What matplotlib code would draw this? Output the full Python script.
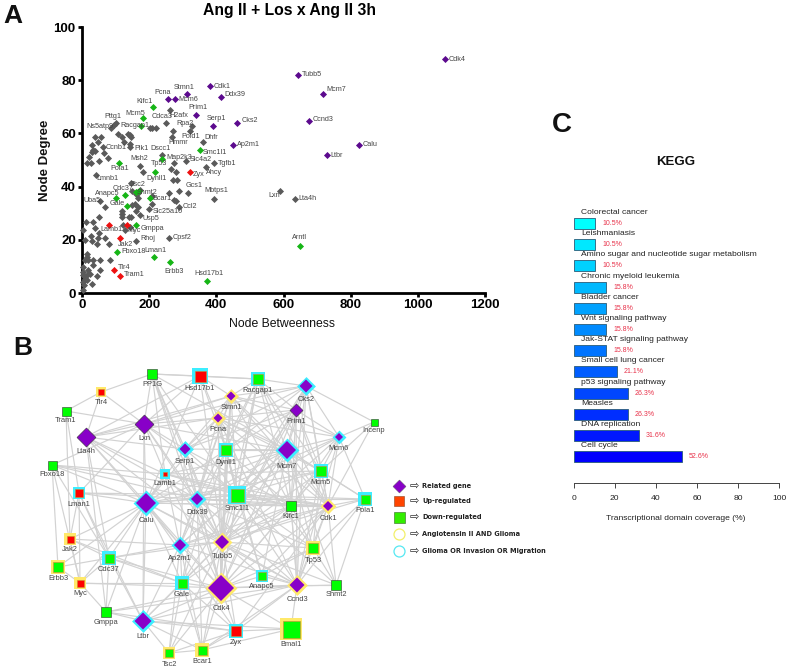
#Recreates the three panel figure: scatter (A), network (B), KEGG bars (C)
import matplotlib
matplotlib.use('Agg')
import matplotlib.pyplot as plt
import numpy as np

plt.rcParams['font.family'] = ['Liberation Sans', 'DejaVu Sans']

W, H = 789, 669

# Panel A data: named genes
purple_names = ['Cdk4', 'Tubb5', 'Mcm7', 'Cdk1', 'Ddx39', 'Stmn1', 'Pcna', 'Mcm6', 'Prim1', 'Serp1', 'Cks2', 'Ccnd3', 'Calu', 'Ltbr', 'Ap2m1']
purple_x = [1082, 642, 719, 382, 415, 314, 257, 276, 339, 390, 463, 675, 824, 729, 451]
purple_y = [87.9, 81.8, 74.8, 77.75, 73.75, 74.75, 72.75, 72.75, 66.75, 62.75, 63.75, 64.8, 55.8, 51.8, 55.75]

green_names = ['Kifc1', 'Mcm5', 'Racgap1', 'Smc1l1', 'Pola1', 'Tp53', 'Dynll1', 'Cdc37', 'Anapc5', 'Gale', 'Tsc2', 'Shmt2', 'Bcar1', 'Gmppa', 'Fbxo18', 'Lman1', 'Erbb3', 'Hsd17b1', 'Arntl']
green_x = [210, 182, 177, 350, 111, 239, 216, 129, 101, 133, 162, 169, 202, 161, 105, 214, 261, 371, 649]
green_y = [69.75, 65.75, 62.75, 53.75, 48.75, 50.5, 45.5, 36.75, 35.75, 32.75, 38, 38.5, 35.75, 25.5, 15.5, 13.5, 11.5, 4.5, 17.7]

red_names = ['Zyx', 'Lamb1', 'Myc', 'Jak2', 'Tlr4', 'Tram1']
red_x = [322, 79, 134, 112, 95, 113]
red_y = [45.5, 25.5, 25.5, 20.5, 8.5, 6.5]

grey_names = ['Ns5atp9', 'Pttg1', 'Cdca3', 'H2afx', 'Rpa2', 'Ccnb1', 'Plk1', 'Dscc1', 'Pold1', 'Hmmr', 'Dhfr', 'Msh2', 'Map2k3', 'Slc4a2', 'Tgfb1', 'Lmnb1', 'Ahcy', 'Gcs1', 'Mbtps1', 'Lxn', 'Lta4h', 'Uba5', 'Ccl2', 'Slc25a10', 'Usp5', 'Cpsf2', 'Rhoj']
grey_x = [86, 102, 249, 263, 327, 144, 144, 237, 321, 267, 361, 174, 275, 311, 392, 41, 370, 317, 392, 589, 635, 54, 289, 199, 174, 258, 161]
grey_y = [61.9, 63.75, 63.75, 68.75, 62.75, 55.9, 54.75, 51.75, 60.75, 58.75, 56.75, 47.75, 48.75, 49.75, 48.75, 44.5, 47.5, 37.5, 35.5, 38.5, 35.5, 34.5, 32.5, 31.6, 29.5, 20.5, 19.6]

# unnamed grey genes
other_x = [94, 38, 56, 29, 49, 62, 34, 29, 39, 65, 77, 22, 16, 26, 52, 108, 120, 137, 142, 147, 126, 202, 209, 219, 271,
           182, 147, 279, 264, 272, 284, 258, 289, 274, 279, 209, 209, 166, 149, 159, 166, 119, 119, 119, 147, 139, 67, 51,
           12, 32, 39, 52, 2, 27, 49, 67, 9, 29, 44, 79, 54, 82, 34, 14, 16, 19, 9, 4, 2, 2, 19, 34, 54, 46, 29, 14, 14, 6, 2,
           4, 24, 9, 122, 129, 144, 162, 167, 174, 162, 149]
other_y = [63.1, 58.75, 58.75, 55.75, 56.75, 54.75, 53.75, 53.1, 53.5, 52.75, 50.9, 51, 48.75, 48.75, 49.75, 59.75, 58.75, 59.75, 59.25, 58.5, 56.9, 61.9, 61.9, 61.9, 60.75,
           45.5, 41.5, 45.5, 46.5, 42.5, 42.5, 37.5, 38.5, 35, 34.5, 36.6, 33.5, 35.6, 32.9, 33.5, 32.25, 30.75, 29.75, 28.5, 28.5, 28.5, 32.5, 28.5,
           26.6, 26.6, 24.5, 22.5, 23.5, 21.5, 20.5, 20.5, 19.75, 19.5, 18.5, 18.5, 12.5, 12.5, 12.25, 14.75, 13.5, 12.25, 12.25, 9.75, 7.9, 6.6, 8.5, 10.4, 8.5, 6.5, 3.5, 6.6, 4.75, 2.9, 1,
           4.1, 7.25, 5.4, 25.4, 23.5, 25, 31, 37.5, 38.75, 37.25, 38.5]

# label offsets from the marker, in pixels
label_offset = {'Cdk4': (12, 0), 'Tubb5': (14, 1), 'Mcm7': (13, 5), 'Cdk1': (12, 0), 'Ddx39': (14, 2), 'Stmn1': (-3, 7), 'Pcna': (-6, 7),
                'Mcm6': (14, 0), 'Prim1': (2, 8), 'Serp1': (3, 8), 'Cks2': (12, 3), 'Ccnd3': (14, 1), 'Calu': (11, 0), 'Ltbr': (10, 0), 'Ap2m1': (15, 0),
                'Kifc1': (-8, 6), 'Mcm5': (-8, 5), 'Racgap1': (-7, 1), 'Smc1l1': (15, -2), 'Pola1': (0, -5), 'Tp53': (-3, -5), 'Dynll1': (2, -7),
                'Cdc37': (-2, 7), 'Anapc5': (-9, 4), 'Gale': (-9, 2), 'Tsc2': (2, 7), 'Shmt2': (8, -2), 'Bcar1': (12, -1), 'Gmppa': (16, -3),
                'Fbxo18': (16, 0), 'Lman1': (2, 7), 'Erbb3': (4, -9), 'Hsd17b1': (2, 8), 'Arntl': (0, 8),
                'Zyx': (8, -3), 'Lamb1': (3, -4), 'Myc': (7, -5), 'Jak2': (6, -6), 'Tlr4': (10, 3), 'Tram1': (14, 1),
                'Ns5atp9': (-11, 2), 'Pttg1': (-3, 7), 'Cdca3': (-4, 7), 'H2afx': (8, -5), 'Rpa2': (-7, 3), 'Ccnb1': (-14, -3), 'Plk1': (11, -1),
                'Dscc1': (-1, 7), 'Pold1': (1, -5), 'Hmmr': (7, -6), 'Dhfr': (8, 5), 'Msh2': (-1, 7), 'Map2k3': (5, 6), 'Slc4a2': (14, 1), 'Tgfb1': (13, 0),
                'Lmnb1': (12, -4), 'Ahcy': (8, -6), 'Gcs1': (6, 8), 'Mbtps1': (3, 8), 'Lxn': (-6, -5), 'Lta4h': (12, 0), 'Uba5': (-8, 1),
                'Ccl2': (11, 0), 'Slc25a10': (19, -3), 'Usp5': (10, -4), 'Cpsf2': (13, 1), 'Rhoj': (12, 2)}

# Panel B data: D related, R up, G down, ring y/c/n
node_names = ['PP1G', 'Hsd17b1', 'Tlr4', 'Tram1', 'Lxn', 'Lta4h', 'Serp1', 'Pcna', 'Fbxo18', 'Lamb1', 'Lman1', 'Calu', 'Ddx39',
              'Racgap1', 'Cks2', 'Stmn1', 'Prim1', 'Incenp', 'Mcm6', 'Dynll1', 'Mcm7', 'Mcm5', 'Smc1l1', 'Kifc1', 'Cdk1', 'Pola1',
              'Jak2', 'Ap2m1', 'Tubb5', 'Cdc37', 'Erbb3', 'Myc', 'Gale', 'Cdk4', 'Gmppa', 'Ltbr', 'Tsc2', 'Bcar1',
              'Tp53', 'Anapc5', 'Ccnd3', 'Shmt2', 'Bmal1', 'Zyx']
node_x = [152, 200, 101, 66, 144, 86, 185, 218, 52, 165, 79, 146, 197,
          258, 306, 231, 296, 374, 339, 226, 287, 321, 237, 291, 328, 365,
          70, 180, 222, 109, 58, 80, 182, 221, 106, 143, 169, 202,
          313, 262, 297, 336, 291, 236]
node_y = [374, 376, 392, 411, 424, 437, 449, 418, 465, 474, 493, 503, 499,
          379, 386, 396, 410, 422, 437, 450, 450, 471, 495, 506, 506, 499,
          539, 545, 542, 558, 567, 583, 583, 588, 612, 621, 653, 650,
          548, 576, 585, 585, 629, 631]
node_kind = ['G', 'R', 'R', 'G', 'D', 'D', 'D', 'D', 'G', 'R', 'R', 'D', 'D',
             'G', 'D', 'D', 'D', 'G', 'D', 'G', 'D', 'G', 'G', 'G', 'D', 'G',
             'R', 'D', 'D', 'G', 'G', 'R', 'G', 'D', 'G', 'D', 'G', 'G',
             'G', 'G', 'D', 'G', 'G', 'R']
node_ring = ['n', 'c', 'y', 'n', 'n', 'n', 'c', 'y', 'n', 'c', 'c', 'c', 'c',
             'c', 'c', 'y', 'n', 'n', 'c', 'c', 'c', 'c', 'c', 'n', 'y', 'c',
             'y', 'c', 'y', 'c', 'y', 'y', 'c', 'y', 'n', 'c', 'y', 'y',
             'y', 'c', 'y', 'n', 'y', 'c']
node_size = [10, 11, 6, 9, 19, 19, 11, 9, 9, 5, 8, 20, 12,
             10, 13, 9, 13, 7, 8, 10, 18, 10, 13, 10, 10, 9,
             7, 12, 14, 9, 10, 7, 9, 26, 10, 17, 8, 9,
             10, 8, 15, 10, 17, 10]

edges = {
    'PP1G': 'Tlr4 Lxn Lamb1 Serp1 Ddx39 Smc1l1 Tubb5 Mcm7 Racgap1 Cdk4 Hsd17b1',
    'Hsd17b1': 'Lxn Stmn1 Racgap1 Lta4h Pcna Dynll1 Calu Tubb5',
    'Tlr4': 'Lta4h Lxn Tram1',
    'Tram1': 'Lxn Lman1 Jak2',
    'Lxn': 'Lta4h Serp1 Pcna Stmn1 Calu Lamb1 Ddx39 Mcm7 Lman1 Fbxo18 Smc1l1 Tubb5 Ltbr Cks2',
    'Lta4h': 'Serp1 Lamb1 Calu Ap2m1 Cdc37 Pcna Gmppa Tubb5 Ddx39 Stmn1',
    'Serp1': 'Pcna Stmn1 Calu Ddx39 Mcm7 Tubb5 Cdk4 Cks2 Prim1 Smc1l1 Ap2m1 Kifc1',
    'Pcna': 'Stmn1 Mcm7 Ddx39 Dynll1 Mcm6 Mcm5 Cdk1 Cdk4 Ccnd3 Smc1l1 Calu Prim1 Tubb5 Tp53',
    'Fbxo18': 'Lamb1 Calu Erbb3 Ddx39 Cdk1 Myc Cdc37',
    'Lamb1': 'Calu Smc1l1 Mcm7 Kifc1 Cdk1 Tubb5 Ap2m1 Mcm5 Cdk4',
    'Lman1': 'Jak2 Myc Cdc37 Ddx39 Calu Ltbr Smc1l1',
    'Calu': 'Ddx39 Smc1l1 Kifc1 Jak2 Myc Erbb3 Cdc37 Ap2m1 Tubb5 Cdk4 Gale Ltbr Mcm7 Mcm5 Cdk1 Dynll1 Ccnd3 Gmppa Zyx',
    'Ddx39': 'Smc1l1 Mcm7 Kifc1 Cdk1 Pola1 Ap2m1 Tubb5 Cdk4 Ccnd3 Racgap1 Stmn1 Mcm6 Gale Tp53 Bcar1',
    'Racgap1': 'Cks2 Stmn1 Prim1 Mcm7 Dynll1 Smc1l1 Mcm5 Cdk1 Tubb5 Cdk4 Kifc1',
    'Cks2': 'Prim1 Stmn1 Mcm6 Incenp Mcm7 Mcm5 Cdk1 Dynll1 Smc1l1 Kifc1 Tubb5 Ccnd3',
    'Stmn1': 'Prim1 Dynll1 Mcm7 Smc1l1 Tubb5 Cdk4 Kifc1 Cdk1 Mcm6 Ap2m1',
    'Prim1': 'Mcm7 Mcm6 Mcm5 Smc1l1 Cdk1 Kifc1 Dynll1 Tubb5 Cdk4 Ccnd3',
    'Incenp': 'Mcm6 Mcm5 Cdk1',
    'Mcm6': 'Mcm7 Mcm5 Kifc1 Cdk1 Pola1 Smc1l1 Tubb5 Ccnd3',
    'Dynll1': 'Mcm7 Smc1l1 Tubb5 Ap2m1 Cdk4 Kifc1 Gale Anapc5',
    'Mcm7': 'Mcm5 Smc1l1 Kifc1 Cdk1 Pola1 Tubb5 Cdk4 Ccnd3 Tp53 Ap2m1 Anapc5 Shmt2',
    'Mcm5': 'Cdk1 Pola1 Kifc1 Smc1l1 Tubb5 Cdk4 Ccnd3 Tp53',
    'Smc1l1': 'Kifc1 Cdk1 Ap2m1 Tubb5 Cdk4 Ccnd3 Gale Tp53 Pola1 Anapc5 Shmt2',
    'Kifc1': 'Cdk1 Tubb5 Cdk4 Ccnd3 Ap2m1 Tp53 Gale',
    'Cdk1': 'Pola1 Tp53 Shmt2 Ccnd3 Tubb5 Cdk4 Ap2m1 Anapc5 Zyx',
    'Pola1': 'Tp53 Ccnd3 Shmt2 Tubb5',
    'Jak2': 'Myc Cdc37 Ap2m1 Gale',
    'Ap2m1': 'Tubb5 Cdc37 Gale Cdk4 Ltbr Tsc2 Ccnd3 Bcar1',
    'Tubb5': 'Cdk4 Gale Cdc37 Anapc5 Ccnd3 Tp53 Zyx Ltbr Bcar1 Tsc2 Shmt2',
    'Cdc37': 'Erbb3 Myc Gmppa Gale Ltbr Cdk4',
    'Erbb3': 'Myc',
    'Myc': 'Gale Cdk4 Gmppa',
    'Gale': 'Cdk4 Ltbr Bcar1 Tsc2 Zyx',
    'Cdk4': 'Gmppa Ltbr Tsc2 Bcar1 Zyx Anapc5 Ccnd3 Tp53 Shmt2 Bmal1',
    'Gmppa': 'Ltbr Zyx Ccnd3',
    'Ltbr': 'Tsc2 Bcar1 Zyx Bmal1 Ccnd3',
    'Tsc2': 'Bcar1 Zyx',
    'Bcar1': 'Zyx Bmal1 Ccnd3',
    'Tp53': 'Ccnd3 Shmt2 Anapc5',
    'Anapc5': 'Ccnd3',
    'Ccnd3': 'Shmt2 Bmal1 Zyx',
    'Bmal1': 'Zyx',
}

legend_labels = ['Related gene', 'Up-regulated', 'Down-regulated', 'Angiotensin II AND Glioma', 'Glioma OR Invasion OR Migration']

# Panel C data
pathways = ['Colorectal cancer', 'Leishmaniasis', 'Amino sugar and nucleotide sugar metabolism', 'Chronic myeloid leukemia',
            'Bladder cancer', 'Wnt signaling pathway', 'Jak-STAT signaling pathway', 'Small cell lung cancer',
            'p53 signaling pathway', 'Measles', 'DNA replication', 'Cell cycle']
coverage = [10.5, 10.5, 10.5, 15.8, 15.8, 15.8, 15.8, 21.1, 26.3, 26.3, 31.6, 52.6]


def axes_px(fig, left, top, right, bottom):
    # axes rectangle given in image pixels
    return fig.add_axes([left / W, 1 - bottom / H, (right - left) / W, (bottom - top) / H])


fig = plt.figure(figsize=(W / 100, H / 100), dpi=100)

# background axes in image pixels for the network and panel letters
net = fig.add_axes([0, 0, 1, 1])
net.set_xlim(0, W)
net.set_ylim(H, 0)
net.axis('off')

net.text(3, 23, 'A', fontsize=19, fontweight='bold', ha='left', va='baseline', color='#111111')
net.text(13, 355, 'B', fontsize=19, fontweight='bold', ha='left', va='baseline', color='#111111')
net.text(552, 132, 'C', fontsize=20, fontweight='bold', ha='left', va='baseline', color='#111111')

# Panel A
ax = axes_px(fig, 82, 27, 485, 293)
ax.patch.set_alpha(0)
ax.set_xlim(0, 1200)
ax.set_ylim(0, 100)
ms = 13
ax.scatter(other_x, other_y, s=ms, marker='D', color='#5a5a5a', linewidths=0, clip_on=False, zorder=3)
ax.scatter(grey_x, grey_y, s=ms, marker='D', color='#5a5a5a', linewidths=0, clip_on=False, zorder=3)
ax.scatter(purple_x, purple_y, s=ms, marker='D', color='#5c0a8e', linewidths=0, zorder=4)
ax.scatter(green_x, green_y, s=ms, marker='D', color='#16b516', linewidths=0, zorder=4)
ax.scatter(red_x, red_y, s=ms, marker='D', color='#ee1111', linewidths=0, zorder=4)

for names, xs, ys in [(purple_names, purple_x, purple_y), (green_names, green_x, green_y),
                      (red_names, red_x, red_y), (grey_names, grey_x, grey_y)]:
    for n in range(len(names)):
        ax.annotate(names[n], (xs[n], ys[n]), xytext=label_offset[names[n]], textcoords='offset pixels',
                    fontsize=5.2, ha='center', va='center', color='#444444', zorder=5)

for side in ['top', 'right']:
    ax.spines[side].set_visible(False)
for side in ['left', 'bottom']:
    ax.spines[side].set_linewidth(2)
ax.set_xticks(range(0, 1201, 200))
ax.set_yticks(range(0, 101, 20))
ax.tick_params(width=2, length=3, labelsize=9.5, pad=1.5)
for t in ax.get_xticklabels() + ax.get_yticklabels():
    t.set_fontweight('bold')
net.text(289.6, 11, 'Ang II + Los x Ang II 3h', fontsize=11.3, fontweight='bold', ha='center', va='center')
net.text(282, 324, 'Node Betweenness', fontsize=8.85, ha='center', va='center', color='#111111')
net.text(45, 160, 'Node Degree', fontsize=9.5, fontweight='bold', rotation=90, ha='center', va='center', color='#111111')

# Panel B edges
for a in edges:
    for b in edges[a].split():
        i, j = node_names.index(a), node_names.index(b)
        net.plot([node_x[i], node_x[j]], [node_y[i], node_y[j]], color='#d2d2d2', lw=0.85, zorder=1, solid_capstyle='round')

# Panel B nodes
fills = {'D': '#8800c8', 'R': '#ff0000', 'G': '#00ff00'}
rings = {'y': '#ffe96a', 'c': '#3ceeff'}
for n in range(len(node_names)):
    size = node_size[n]
    kind = node_kind[n]
    marker = 'D' if kind == 'D' else 's'
    side = size * 0.72 / (np.sqrt(2) if kind == 'D' else 1)
    if node_ring[n] != 'n':
        net.scatter(node_x[n], node_y[n], s=(side + 3) ** 2, marker=marker, color=rings[node_ring[n]], linewidths=0, zorder=2)
        edge_col = 'none' if kind == 'D' else '#cc8833'
    else:
        edge_col = '#333333'
    net.scatter(node_x[n], node_y[n], s=side ** 2, marker=marker, color=fills[kind], edgecolors=edge_col, linewidths=0.4, zorder=3)
    half = size / 2 + (2 if node_ring[n] != 'n' else 0)
    net.text(node_x[n], node_y[n] + half + 5, node_names[n], fontsize=5.4, ha='center', va='center', color='#444444', zorder=4)

# Panel B legend
legend_y = [486, 501, 517, 534, 551]
net.scatter(399, legend_y[0], s=(13 * 0.72 / np.sqrt(2)) ** 2, marker='D', color='#8800c8', edgecolors='#555555', linewidths=0.3)
net.scatter(399.5, legend_y[1], s=(10 * 0.72) ** 2, marker='s', color='#ff4400', edgecolors='#884422', linewidths=0.4)
net.scatter(399.5, legend_y[2], s=(11 * 0.72) ** 2, marker='s', color='#33ee00', edgecolors='#336622', linewidths=0.4)
net.scatter(399.5, legend_y[3], s=(11 * 0.72) ** 2, marker='o', color='white', edgecolors='#f2f06a', linewidths=0.9)
net.scatter(399.5, legend_y[4], s=(11 * 0.72) ** 2, marker='o', color='white', edgecolors='#55e8f2', linewidths=0.9)
for n in range(5):
    net.text(414, legend_y[n], '\u21e8', family='DejaVu Sans', fontsize=8, ha='center', va='center', color='#222222')
    net.text(422, legend_y[n], legend_labels[n], family='DejaVu Sans', fontsize=4.75, fontweight='bold', ha='left', va='center', color='#222222')

# Panel C
bar_ax = axes_px(fig, 573.7, 200, 779, 483)
bar_ax.patch.set_alpha(0)
bar_ax.set_xlim(0, 100)
bar_ax.set_ylim(12.24, -1.108)
positions = np.arange(len(pathways))
colours = [(0, g, 1) for g in np.linspace(1, 0, len(pathways))]
bar_ax.barh(positions, coverage, height=0.52, color=colours, edgecolor='#2a5c78', linewidth=0.6)
for n in positions:
    bar_ax.annotate(pathways[n], (0, n), xytext=(7.5, 11), textcoords='offset pixels', fontsize=6.1,
                    ha='left', va='center', color='#222222', annotation_clip=False)
    bar_ax.annotate('%.1f%%' % coverage[n], (coverage[n], n), xytext=(7, 0), textcoords='offset pixels', fontsize=5,
                    ha='left', va='center', color='#e8324a')
for side in ['top', 'right', 'left']:
    bar_ax.spines[side].set_visible(False)
bar_ax.spines['bottom'].set_linewidth(0.7)
bar_ax.spines['bottom'].set_color('#444444')
bar_ax.set_yticks([])
bar_ax.set_xticks(range(0, 101, 20))
bar_ax.tick_params(axis='x', length=3.5, width=0.7, color='#444444', labelsize=6.1, labelcolor='#222222', pad=5)
net.text(676, 519, 'Transcriptional domain coverage (%)', fontsize=6.1, ha='center', va='center', color='#222222')
net.text(676, 162, 'KEGG', fontsize=9.5, fontweight='bold', ha='center', va='center', color='#111111')

fig.savefig('out.png', dpi=100)
